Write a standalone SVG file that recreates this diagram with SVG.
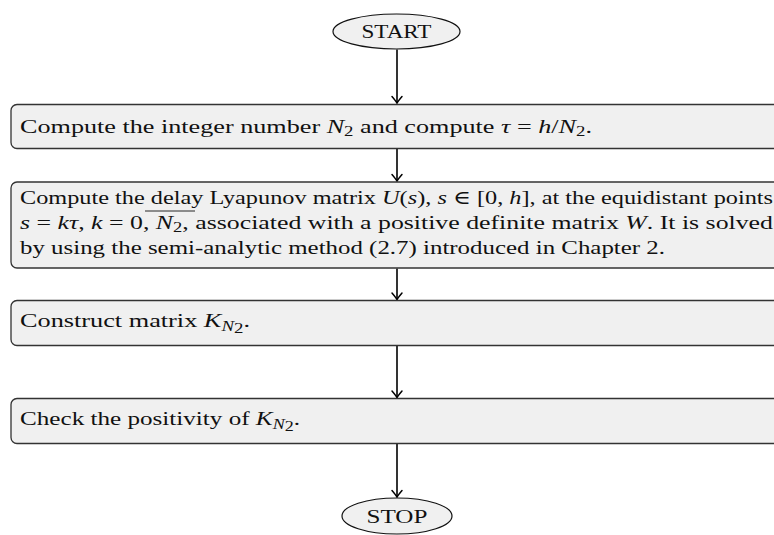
<svg xmlns="http://www.w3.org/2000/svg" width="774" height="535" viewBox="0 0 774 535">
<style>
.box{fill:#f0f0f0;stroke:#333;stroke-width:1.3}
.term{fill:#f0f0f0;stroke:#111;stroke-width:1.2}
.t{font-family:"Liberation Serif","DejaVu Serif",serif;font-size:19.5px;fill:#111}
.m{font-style:italic}
.sub{font-size:14px}
.conn{stroke:#000;stroke-width:1.6;fill:none}
</style>
<defs>
<marker id="arr" markerUnits="userSpaceOnUse" markerWidth="14" markerHeight="14" viewBox="-8 -7 10 14" refX="0" refY="0" orient="auto">
<path d="M -6.5 -5 Q -2 -1.2 0 0 Q -2 1.2 -6.5 5" fill="none" stroke="#000" stroke-width="1.5" stroke-linecap="round"/>
</marker>
</defs>
<g id="connectors">
<line class="conn" x1="397" y1="49.5" x2="397" y2="103" marker-end="url(#arr)"/>
<line class="conn" x1="397" y1="149" x2="397" y2="181" marker-end="url(#arr)"/>
<line class="conn" x1="397" y1="268.5" x2="397" y2="299.5" marker-end="url(#arr)"/>
<line class="conn" x1="397" y1="346" x2="397" y2="397.5" marker-end="url(#arr)"/>
<line class="conn" x1="397" y1="444" x2="397" y2="497" marker-end="url(#arr)"/>
</g>
<g id="start">
<ellipse class="term" cx="396.5" cy="31.5" rx="63.5" ry="17.5"/>
<text class="t" x="396.5" y="38" text-anchor="middle" textLength="70" lengthAdjust="spacingAndGlyphs">START</text>
</g>
<g id="step1">
<rect class="box" x="11" y="104.5" width="800" height="44" rx="6"/>
<text class="t" x="20" y="132.5" textLength="572" lengthAdjust="spacingAndGlyphs">Compute the integer number <tspan class="m">N</tspan><tspan class="sub" dy="3">2</tspan><tspan dy="-3"> and compute </tspan><tspan class="m">τ</tspan> = <tspan class="m">h</tspan>/<tspan class="m">N</tspan><tspan class="sub" dy="3">2</tspan><tspan dy="-3">.</tspan></text>
</g>
<g id="step2">
<rect class="box" x="11" y="182" width="800" height="86" rx="6"/>
<text class="t" x="20" y="203.5" textLength="753" lengthAdjust="spacingAndGlyphs">Compute the delay Lyapunov matrix <tspan class="m">U</tspan>(<tspan class="m">s</tspan>),  <tspan class="m">s</tspan> ∈ [0, <tspan class="m">h</tspan>], at the equidistant points</text>
<text class="t" x="20" y="229" textLength="753" lengthAdjust="spacingAndGlyphs"><tspan class="m">s</tspan> = <tspan class="m">kτ</tspan>,  <tspan class="m">k</tspan> = 0, <tspan class="m">N</tspan><tspan class="sub" dy="3">2</tspan><tspan dy="-3">, associated with a positive definite matrix </tspan><tspan class="m">W</tspan>. It is solved</text>
<line x1="145" y1="211" x2="195" y2="211" stroke="#111" stroke-width="0.9"/>
<text class="t" x="20" y="254" textLength="645" lengthAdjust="spacingAndGlyphs">by using the semi-analytic method (2.7) introduced in Chapter 2.</text>
</g>
<g id="step3">
<rect class="box" x="11" y="300.5" width="800" height="45" rx="6"/>
<text class="t" x="20" y="327" textLength="230" lengthAdjust="spacingAndGlyphs">Construct matrix <tspan class="m">K</tspan><tspan class="sub m" dy="4">N</tspan><tspan class="sub" dy="2" font-size="10px">2</tspan><tspan dy="-6">.</tspan></text>
</g>
<g id="step4">
<rect class="box" x="11" y="398.5" width="800" height="45" rx="6"/>
<text class="t" x="20" y="425" textLength="280" lengthAdjust="spacingAndGlyphs">Check the positivity of <tspan class="m">K</tspan><tspan class="sub m" dy="4">N</tspan><tspan class="sub" dy="2" font-size="10px">2</tspan><tspan dy="-6">.</tspan></text>
</g>
<g id="stop">
<ellipse class="term" cx="397" cy="516" rx="55" ry="18"/>
<text class="t" x="397" y="523" text-anchor="middle" textLength="61" lengthAdjust="spacingAndGlyphs">STOP</text>
</g>
</svg>
